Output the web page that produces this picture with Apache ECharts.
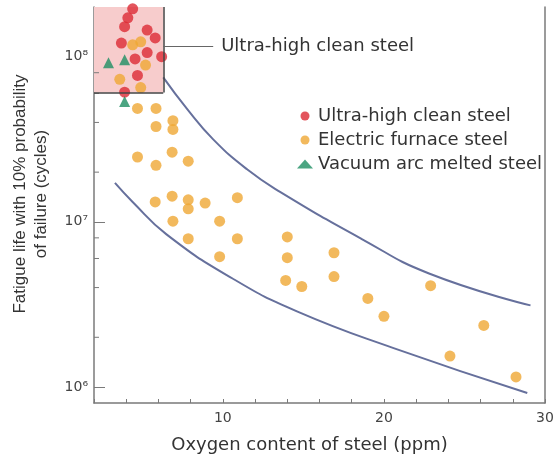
<!DOCTYPE html>
<html>
<head>
<meta charset="utf-8">
<script src="https://cdn.jsdelivr.net/npm/echarts@6/dist/echarts.min.js"></script>
<style>
  html, body { margin: 0; padding: 0; background: #fff; }
  #chart { width: 559px; height: 460px; }
</style>
</head>
<body>
<div id="chart"></div>
<script>
// data: [oxygen ppm, fatigue life cycles]
const ultraClean = [
  [4.4, 1.95e8], [4.1, 1.72e8], [3.9, 1.52e8], [5.3, 1.45e8], [5.8, 1.3e8],
  [3.7, 1.21e8], [5.3, 1.06e8], [4.55, 9.7e7], [6.2, 1.0e8], [4.7, 7.7e7],
  [3.9, 6.1e7]
]
const electricFurnace = [
  [4.4, 1.18e8], [4.9, 1.23e8], [5.2, 8.9e7], [3.6, 7.3e7], [4.9, 6.5e7],
  [4.7, 4.86e7], [5.85, 4.86e7], [5.85, 3.78e7], [6.9, 4.1e7], [6.9, 3.63e7],
  [4.7, 2.47e7], [5.85, 2.2e7], [6.85, 2.64e7], [7.85, 2.33e7],
  [5.8, 1.32e7], [6.85, 1.43e7], [7.85, 1.36e7], [7.85, 1.2e7], [8.9, 1.3e7],
  [10.9, 1.4e7], [6.9, 1.01e7], [9.8, 1.01e7], [7.85, 7.9e6], [10.9, 7.9e6],
  [9.8, 6.15e6], [14.0, 8.1e6], [14.0, 6.07e6], [13.9, 4.42e6], [14.9, 4.06e6],
  [16.9, 6.5e6], [16.9, 4.66e6], [19.0, 3.44e6], [20.0, 2.68e6], [22.9, 4.11e6],
  [26.2, 2.36e6], [24.1, 1.54e6], [28.2, 1.15e6]
]
const vacuumArc = [
  [2.9, 9.2e7], [3.9, 9.6e7], [3.9, 5.36e7]
]
const upperBound = [
  [6.3, 7.5e7], [7.8, 4.8e7], [9.4, 3.16e7], [11.5, 2.08e7], [13.55, 1.52e7],
  [18.6, 7.9e6], [22.8, 4.87e6], [29.1, 3.12e6]
]
const lowerBound = [
  [3.3, 1.72e7], [4.4, 1.32e7], [6.5, 8.4e6], [10.6, 4.54e6], [14.6, 2.87e6],
  [20.6, 1.72e6], [28.9, 9.2e5]
]
const boxX = [2, 6.3]
const boxY = [6.07e7, 2e8]
const pointerX = [6.3, 9.4]
const pointerY = 1.15e8
const yMajorTicks = [1e6, 1e7, 1e8]
const yMinorTicks = [2e6, 4e6, 6e6, 8e6, 2e7, 4e7, 6e7, 8e7]
const xLabels = [10, 20, 30]
const seriesNames = ['Ultra-high clean steel', 'Electric furnace steel', 'Vacuum arc melted steel']

const sup = { 6: '⁶', 7: '⁷', 8: '⁸' }
const font = 'DejaVu Sans'
const axisGray = '#7a7a7a'
const curveColor = '#66709c'

const chart = echarts.init(document.getElementById('chart'))

const option = {
  animation: false,
  textStyle: { fontFamily: font },
  grid: { left: 94, right: 14, top: 7, bottom: 57 },
  legend: {
    data: seriesNames,
    orient: 'vertical',
    left: 292,
    top: 102,
    itemGap: 6,
    itemWidth: 16,
    itemHeight: 9,
    textStyle: { fontFamily: font, fontSize: 18, color: '#333' }
  },
  xAxis: {
    type: 'value',
    min: 2,
    max: 30,
    interval: 2,
    name: 'Oxygen content of steel (ppm)',
    nameLocation: 'middle',
    nameGap: 33,
    nameTextStyle: { fontFamily: font, fontSize: 18, color: '#333', padding: [0, 20, 0, 0] },
    axisLine: { lineStyle: { color: axisGray, width: 1.5 } },
    axisTick: { inside: true, length: 4, lineStyle: { color: axisGray } },
    axisLabel: {
      margin: 8, fontSize: 14, color: '#444',
      formatter: v => (xLabels.includes(v) ? String(v) : '')
    },
    splitLine: { show: false }
  },
  yAxis: [
    {
      type: 'log',
      min: 8e5,
      max: 2e8,
      name: 'Fatigue life with 10% probability\nof failure (cycles)',
      nameLocation: 'middle',
      nameRotate: 90,
      nameGap: 42,
      nameTextStyle: {
        fontFamily: 'Liberation Sans', fontSize: 17, color: '#333',
        lineHeight: 21, padding: [0, 0, 0, 22]
      },
      axisLine: { lineStyle: { color: axisGray, width: 1.5 } },
      axisTick: { inside: true, length: 11, customValues: yMajorTicks, lineStyle: { color: axisGray } },
      axisLabel: {
        customValues: yMajorTicks,
        margin: 6, fontSize: 14, color: '#444',
        formatter: v => '10' + sup[Math.round(Math.log10(v))]
      },
      splitLine: { show: false }
    },
    {
      type: 'log',
      min: 8e5,
      max: 2e8,
      position: 'right',
      axisLine: { show: true, lineStyle: { color: axisGray, width: 1.5 } },
      axisTick: { show: false },
      axisLabel: { show: false },
      splitLine: { show: false }
    }
  ],
  series: [
    {
      type: 'custom',
      silent: true,
      data: yMinorTicks.map(v => [2, v]),
      renderItem: (params, api) => {
        const p = api.coord([api.value(0), api.value(1)])
        return {
          type: 'line',
          shape: { x1: p[0], y1: p[1], x2: p[0] + 5, y2: p[1] },
          style: { stroke: axisGray, lineWidth: 1 }
        }
      }
    },
    {
      type: 'line',
      data: upperBound,
      smooth: 0.5,
      showSymbol: false,
      lineStyle: { color: curveColor, width: 2 },
      z: 1
    },
    {
      type: 'line',
      data: lowerBound,
      smooth: 0.5,
      showSymbol: false,
      lineStyle: { color: curveColor, width: 2 },
      z: 1
    },
    {
      name: seriesNames[1],
      type: 'scatter',
      data: electricFurnace,
      symbolSize: 11,
      itemStyle: { color: '#efa834' },
      z: 3
    },
    {
      name: seriesNames[0],
      type: 'scatter',
      data: ultraClean,
      symbolSize: 11,
      itemStyle: { color: '#dc2a35' },
      z: 4,
      markArea: {
        silent: true,
        itemStyle: { color: '#f7cccc', borderWidth: 0 },
        data: [[{ coord: [boxX[0], boxY[0]] }, { coord: [boxX[1], boxY[1]] }]]
      },
      markLine: {
        silent: true,
        symbol: 'none',
        lineStyle: { color: '#444', width: 1.5, type: 'solid' },
        label: { show: false },
        emphasis: { disabled: true },
        data: [
          [{ coord: [boxX[1], boxY[0]] }, { coord: [boxX[1], boxY[1]] }],
          [{ coord: [boxX[0], boxY[0]] }, { coord: [boxX[1], boxY[0]] }],
          [
            {
              coord: [pointerX[0], pointerY],
              lineStyle: { color: '#666', width: 1.2 },
              label: {
                show: true, position: 'end', distance: 8,
                formatter: 'Ultra-high clean steel',
                fontFamily: font, fontSize: 18, color: '#333'
              }
            },
            { coord: [pointerX[1], pointerY] }
          ]
        ]
      }
    },
    {
      name: seriesNames[2],
      type: 'scatter',
      data: vacuumArc,
      symbol: 'triangle',
      symbolSize: 11,
      itemStyle: { color: '#1e8f63' },
      z: 4
    }
  ]
}

chart.setOption(option)
</script>
</body>
</html>
